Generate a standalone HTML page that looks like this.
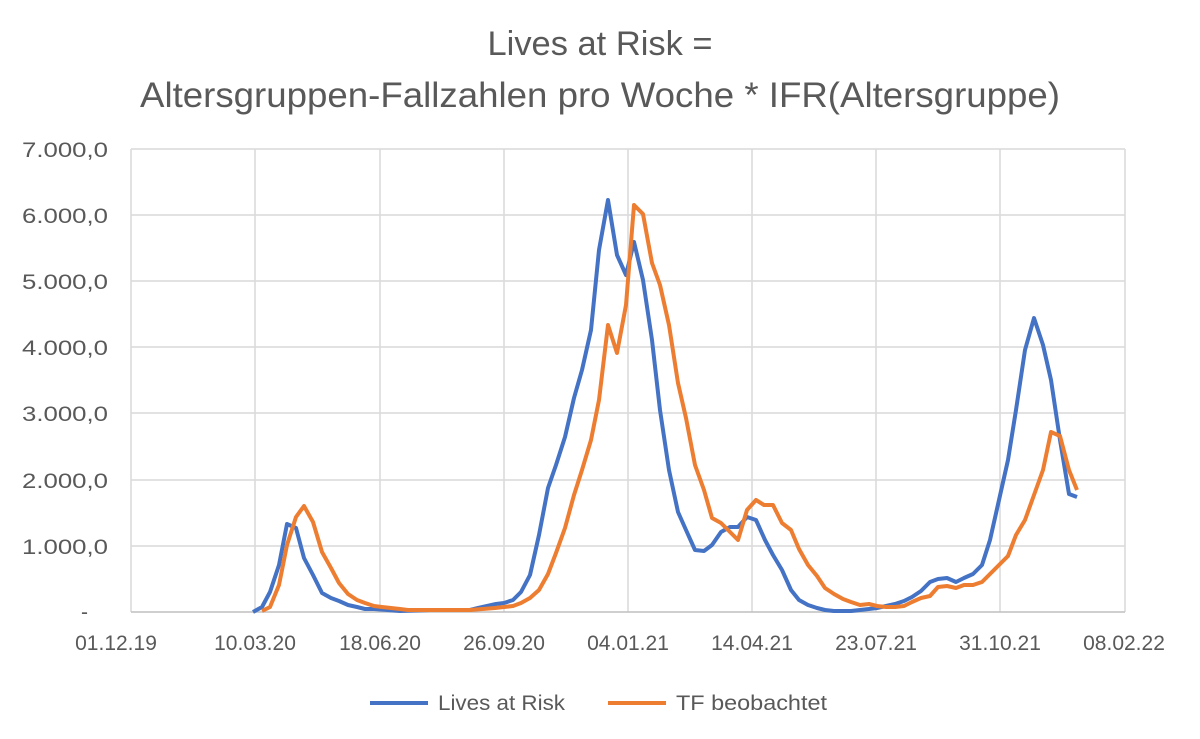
<!DOCTYPE html>
<html><head><meta charset="utf-8"><style>
body{margin:0;background:#fff;}
svg{display:block;font-family:"Liberation Sans",sans-serif;}
</style></head><body>
<svg width="1200" height="739" viewBox="0 0 1200 739">
<rect width="1200" height="739" fill="#fff"/>
<text x="600" y="55" font-size="34" fill="#595959" text-anchor="middle" textLength="225" lengthAdjust="spacingAndGlyphs">Lives at Risk =</text>
<text x="600" y="107" font-size="35" fill="#595959" text-anchor="middle" textLength="920" lengthAdjust="spacingAndGlyphs">Altersgruppen-Fallzahlen pro Woche * IFR(Altersgruppe)</text>
<g stroke="#d9d9d9" stroke-width="1.5">
<line x1="131" y1="149" x2="1125" y2="149"/>
<line x1="131" y1="215" x2="1125" y2="215"/>
<line x1="131" y1="281" x2="1125" y2="281"/>
<line x1="131" y1="347" x2="1125" y2="347"/>
<line x1="131" y1="413" x2="1125" y2="413"/>
<line x1="131" y1="480" x2="1125" y2="480"/>
<line x1="131" y1="546" x2="1125" y2="546"/>
<line x1="131" y1="149" x2="131" y2="612"/>
<line x1="255" y1="149" x2="255" y2="612"/>
<line x1="380" y1="149" x2="380" y2="612"/>
<line x1="504" y1="149" x2="504" y2="612"/>
<line x1="628" y1="149" x2="628" y2="612"/>
<line x1="752" y1="149" x2="752" y2="612"/>
<line x1="876" y1="149" x2="876" y2="612"/>
<line x1="1000" y1="149" x2="1000" y2="612"/>
<line x1="1125" y1="149" x2="1125" y2="612"/>
</g>
<line x1="131" y1="612" x2="1125" y2="612" stroke="#bfbfbf" stroke-width="1.5"/>
<g font-size="21" fill="#595959" text-anchor="end">
<text x="108" y="157" textLength="86" lengthAdjust="spacingAndGlyphs">7.000,0</text>
<text x="108" y="223" textLength="86" lengthAdjust="spacingAndGlyphs">6.000,0</text>
<text x="108" y="289" textLength="86" lengthAdjust="spacingAndGlyphs">5.000,0</text>
<text x="108" y="355" textLength="86" lengthAdjust="spacingAndGlyphs">4.000,0</text>
<text x="108" y="421" textLength="86" lengthAdjust="spacingAndGlyphs">3.000,0</text>
<text x="108" y="488" textLength="86" lengthAdjust="spacingAndGlyphs">2.000,0</text>
<text x="108" y="554" textLength="86" lengthAdjust="spacingAndGlyphs">1.000,0</text>
<text x="88" y="619">-</text>
</g>
<g font-size="21" fill="#595959" text-anchor="middle">
<text x="116" y="650">01.12.19</text>
<text x="255" y="650">10.03.20</text>
<text x="380" y="650">18.06.20</text>
<text x="504" y="650">26.09.20</text>
<text x="628" y="650">04.01.21</text>
<text x="752" y="650">14.04.21</text>
<text x="876" y="650">23.07.21</text>
<text x="1000" y="650">31.10.21</text>
<text x="1124" y="650">08.02.22</text>
</g>
<polyline fill="none" stroke="#4472c4" stroke-width="4" stroke-linejoin="round" points="253,612 262,607 270,592 279,565 287,524 296,528 304,558 313,575 322,593 331,598 339,601 348,605 357,607 365,609 374,609 400,611 430,610 450,610 470,610 478,608 487,606 496,604 504,603 513,600 521,592 530,575 539,535 548,488 556,465 565,437 574,398 582,370 591,330 599,250 608,200 617,255 626,275 634,242 643,280 652,340 660,410 669,470 678,512 686,530 695,550 704,551 712,545 721,532 730,527 738,527 747,517 756,520 765,540 773,555 782,570 791,590 799,600 808,605 817,608 825,610 834,611 843,611 851,611 860,610 869,609 877,608 886,606 895,604 904,601 912,597 921,591 930,582 938,579 947,578 956,582 964,578 973,574 982,565 990,540 999,500 1008,460 1016,410 1025,350 1034,318 1043,345 1051,380 1060,440 1069,494 1077,497"/>
<polyline fill="none" stroke="#ed7d31" stroke-width="4" stroke-linejoin="round" points="262,611 270,607 279,585 287,545 296,517 304,506 313,522 322,552 331,568 339,583 348,594 357,600 365,603 374,606 382,607 391,608 400,609 408,610 440,610 470,610 495,608 504,607 513,606 521,603 530,598 539,590 548,574 556,553 565,528 574,495 582,470 591,440 599,400 608,325 617,353 626,305 634,205 643,214 652,263 660,285 669,325 678,383 686,418 695,465 704,490 712,518 721,523 730,532 738,540 747,510 756,500 764,505 773,505 782,523 791,530 799,549 808,565 817,576 825,588 834,594 843,599 851,602 860,605 869,604 877,606 886,607 895,607 904,606 912,602 921,598 930,596 938,587 947,586 956,588 964,585 973,585 982,582 990,574 999,565 1008,556 1016,535 1025,520 1034,495 1043,470 1051,432 1060,436 1069,470 1077,490"/>
<line x1="370" y1="703" x2="428" y2="703" stroke="#4472c4" stroke-width="4"/>
<text x="438" y="710" font-size="21" fill="#595959" textLength="127" lengthAdjust="spacingAndGlyphs">Lives at Risk</text>
<line x1="608" y1="703" x2="666" y2="703" stroke="#ed7d31" stroke-width="4"/>
<text x="676" y="710" font-size="21" fill="#595959" textLength="151" lengthAdjust="spacingAndGlyphs">TF beobachtet</text>
</svg>
</body></html>
